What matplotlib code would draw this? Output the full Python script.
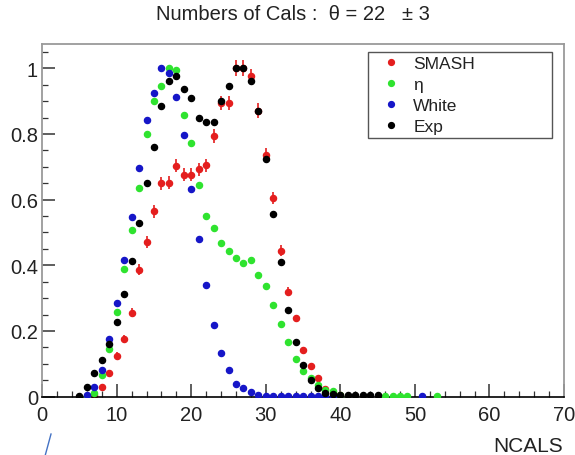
import numpy as np
from matplotlib import pyplot as plt
from matplotlib.lines import Line2D

plt.rcParams["font.family"] = ["Liberation Sans", "DejaVu Sans"]

# SMASH (red)
smash_x = [6, 7, 8, 9, 10, 11, 12, 13, 14, 15, 16, 17, 18, 19, 20, 21, 22, 23, 24, 25,
           26, 27, 28, 29, 30, 31, 32, 33, 34, 35, 36, 37, 38, 39, 40]
smash_y = [0.002, 0.006, 0.028, 0.073, 0.125, 0.175, 0.256, 0.386, 0.472, 0.564, 0.65, 0.651,
           0.703, 0.676, 0.676, 0.693, 0.705, 0.793, 0.894, 0.894, 1.0, 1.0, 0.975, 0.871,
           0.737, 0.604, 0.445, 0.32, 0.239, 0.143, 0.094, 0.056, 0.023, 0.01, 0.005]
smash_err = [0.002, 0.003, 0.005, 0.008, 0.01, 0.012, 0.014, 0.017, 0.018, 0.02, 0.02, 0.02,
             0.02, 0.02, 0.02, 0.02, 0.02, 0.021, 0.022, 0.022, 0.024, 0.024, 0.023, 0.022,
             0.02, 0.018, 0.016, 0.013, 0.011, 0.009, 0.007, 0.005, 0.004, 0.003, 0.002]

# eta (green)
eta_x = [6, 7, 8, 9, 10, 11, 12, 13, 14, 15, 16, 17, 18, 19, 20, 21, 22, 23, 24, 25, 26,
         27, 28, 29, 30, 31, 32, 33, 34, 35, 36, 37, 38, 39, 40, 46, 47, 48, 49, 53]
eta_y = [0.003, 0.01, 0.067, 0.145, 0.258, 0.389, 0.509, 0.635, 0.80, 0.90, 0.947, 1.0,
         0.995, 0.858, 0.771, 0.645, 0.551, 0.514, 0.467, 0.443, 0.421, 0.406, 0.417, 0.372,
         0.336, 0.279, 0.221, 0.165, 0.115, 0.077, 0.056, 0.037, 0.021, 0.016, 0.005,
         0.002, 0.002, 0.002, 0.002, 0.002]

# White (blue)
white_x = [6, 7, 8, 9, 10, 11, 12, 13, 14, 15, 16, 17, 18, 19, 20, 21, 22, 23, 24, 25, 26,
           27, 28, 29, 30, 31, 32, 33, 34, 35, 36, 37, 38, 39, 51]
white_y = [0.004, 0.028, 0.082, 0.176, 0.284, 0.416, 0.546, 0.697, 0.843, 0.925, 1.0, 0.986,
           0.912, 0.797, 0.632, 0.48, 0.34, 0.219, 0.133, 0.082, 0.039, 0.025, 0.013, 0.006,
           0.003, 0.003, 0.003, 0.003, 0.003, 0.003, 0.003, 0.003, 0.003, 0.003, 0.002]

# Exp (black)
exp_x = [5, 6, 7, 8, 9, 10, 11, 12, 13, 14, 15, 16, 17, 18, 19, 20, 21, 22, 23, 24, 25,
         26, 27, 28, 29, 30, 31, 32, 33, 34, 35, 36, 37, 38, 39, 40, 41, 42, 43, 44, 45]
exp_y = [0.002, 0.028, 0.071, 0.113, 0.16, 0.226, 0.312, 0.412, 0.529, 0.651, 0.761, 0.885,
         0.96, 0.977, 0.937, 0.908, 0.848, 0.837, 0.837, 0.899, 0.947, 1.0, 1.0, 0.96, 0.871,
         0.724, 0.556, 0.411, 0.265, 0.165, 0.096, 0.052, 0.026, 0.011, 0.008, 0.004, 0.004,
         0.004, 0.004, 0.004, 0.004]

labels = ["SMASH", "\u03b7", "White", "Exp"]
colors = ["#e41e1e", "#2fe32f", "#1616c8", "black"]

fig = plt.figure(figsize=(5.75, 4.56), dpi=100)
ax = fig.add_axes([0.0734, 0.1279, 0.9074, 0.7735])

ms = 4.4
ax.errorbar(smash_x, smash_y, yerr=smash_err, fmt="o", ms=ms, color=colors[0], elinewidth=1.2,
            capsize=0, zorder=2)
ax.plot(eta_x, eta_y, "o", ms=ms, color=colors[1], zorder=3)
ax.plot(white_x, white_y, "o", ms=ms, color=colors[2], zorder=3.1)
ax.plot(exp_x, exp_y, "o", ms=ms, color=colors[3], zorder=3.2)

ax.set_xlim(0, 70)
ax.set_ylim(0, 1.074)
ax.set_xticks(np.arange(0, 71, 10))
ax.set_xticks(np.arange(0, 71, 2), minor=True)
ax.set_yticks([0, 0.2, 0.4, 0.6, 0.8, 1.0])
ax.set_yticklabels(["0", "0.2", "0.4", "0.6", "0.8", "1"])
ax.set_yticks(np.arange(0, 1.07, 0.05), minor=True)
ax.tick_params(which="both", direction="in", top=False, right=False, colors="#333333",
               labelcolor="#222222", labelsize=14.5)
ax.tick_params(which="major", length=9.5, width=1.1)
ax.tick_params(which="minor", length=4.6, width=0.9)
ax.tick_params(axis="x", pad=6)
ax.tick_params(axis="y", pad=3)

for side in ["top", "right", "left"]:
    ax.spines[side].set_color("#9a9a9a")
    ax.spines[side].set_linewidth(1.3)
ax.spines["bottom"].set_color("black")
ax.spines["bottom"].set_linewidth(1.2)

handles = [Line2D([], [], marker="o", ls="none", ms=4.2, color=c) for c in colors]
leg = ax.legend(handles, labels, loc="upper left", bbox_to_anchor=(0.624, 0.977, 0.353, 0.0),
                mode="expand", borderaxespad=0, fontsize=12.5, frameon=True, fancybox=False,
                handlelength=2.3, handletextpad=0.12, borderpad=0.2, labelspacing=0.35,
                framealpha=1)
leg.get_frame().set_edgecolor("#555555")
leg.get_frame().set_linewidth(1.0)
leg.set_zorder(5)
for t in leg.get_texts():
    t.set_color("#222222")

fig.text(0.51, 0.969, "Numbers of Cals :  \u03b8 = 22   \u00b1 3", ha="center", va="center",
         fontsize=14.5, color="#222222")
fig.text(0.979, 0.02, "NCALS", ha="right", va="center", fontsize=15, color="#222222")

# stray blue stroke at the bottom left of the screenshot
fig.add_artist(Line2D([0.0887, 0.0788], [0.046, 0.0], color="#4472c4", lw=1.0))

fig.savefig("out.png", dpi=100)
